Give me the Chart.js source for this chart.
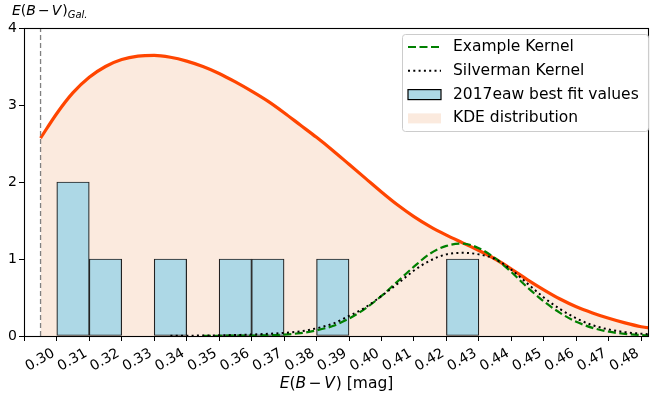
<!DOCTYPE html>
<html>
<head>
<meta charset="utf-8">
<script src="https://cdn.jsdelivr.net/npm/chart.js@4.4.0/dist/chart.umd.min.js"></script>
<style>
  html, body { margin: 0; padding: 0; background: #fff; }
  #wrap { width: 650px; height: 401px; }
</style>
</head>
<body>
<div id="wrap"><canvas id="myChart" width="650" height="401"></canvas></div>
<script>
const gridX = [0.300, 0.305, 0.310, 0.315, 0.320, 0.325, 0.330, 0.335, 0.340, 0.345,
  0.350, 0.355, 0.360, 0.365, 0.370, 0.375, 0.380, 0.385, 0.390, 0.395,
  0.400, 0.405, 0.410, 0.415, 0.420, 0.425, 0.430, 0.435, 0.440, 0.445,
  0.450, 0.455, 0.460, 0.465, 0.470, 0.475, 0.480, 0.485, 0.490];

const kdeValues = [2.57, 2.89, 3.16, 3.36, 3.50, 3.59, 3.635, 3.645, 3.62, 3.57,
  3.50, 3.41, 3.30, 3.18, 3.05, 2.90, 2.74, 2.58, 2.41, 2.23,
  2.05, 1.87, 1.70, 1.55, 1.42, 1.31, 1.21, 1.11, 1.00, 0.87,
  0.73, 0.60, 0.48, 0.38, 0.30, 0.23, 0.17, 0.12, 0.09];

const exampleKernel = [null, null, null, null, null, null, null, null, null, null,
  0.002, 0.003, 0.005, 0.006, 0.009, 0.018, 0.037, 0.073, 0.13, 0.226,
  0.356, 0.52, 0.71, 0.90, 1.07, 1.17, 1.20, 1.14, 1.01, 0.83,
  0.63, 0.45, 0.30, 0.185, 0.106, 0.056, 0.028, 0.013, 0.005];

const silvermanKernel = [null, null, null, null, null, null, null, null, 0.002, 0.004,
  0.006, 0.009, 0.013, 0.019, 0.028, 0.04, 0.06, 0.10, 0.16, 0.26,
  0.37, 0.52, 0.68, 0.85, 0.98, 1.06, 1.08, 1.06, 1.00, 0.86,
  0.68, 0.50, 0.35, 0.23, 0.14, 0.085, 0.05, 0.03, 0.015];

// histogram of best fit values (bin centres, counts)
const fitValues = [0.31, 0.32, 0.34, 0.36, 0.37, 0.39, 0.43];
const fitCounts = [2, 1, 1, 1, 1, 1, 1];

const galEBV = 0.30;

const xTicks = [0.30, 0.31, 0.32, 0.33, 0.34, 0.35, 0.36, 0.37, 0.38, 0.39,
  0.40, 0.41, 0.42, 0.43, 0.44, 0.45, 0.46, 0.47, 0.48];
const yTicks = [0, 1, 2, 3, 4];

const FAMILY = "'DejaVu Sans', sans-serif";
const KDE_FILL = "rgb(251,234,222)";

const toPoints = (ys) => gridX.map((x, i) => ({ x: x, y: ys[i] }));

// draws a mathtext-like string, parts = [{t, italic, size, dy, padL, padR}]
function drawParts(ctx, parts, x, y, align) {
  const font = (p) => (p.italic ? "italic " : "") + (p.size || 15.5) + "px " + FAMILY;
  let total = 0;
  parts.forEach((p) => {
    ctx.font = font(p);
    total += (p.padL || 0) + ctx.measureText(p.t).width + (p.padR || 0);
  });
  let cx = align === "center" ? x - total / 2 : x;
  ctx.textAlign = "left";
  ctx.textBaseline = "alphabetic";
  parts.forEach((p) => {
    ctx.font = font(p);
    cx += p.padL || 0;
    ctx.fillText(p.t, cx, y + (p.dy || 0));
    cx += ctx.measureText(p.t).width + (p.padR || 0);
  });
}

const extrasPlugin = {
  id: "extras",
  afterDatasetsDraw(chart) {
    const ctx = chart.ctx;
    const a = chart.chartArea;
    ctx.save();
    ctx.strokeStyle = "#000";
    ctx.lineWidth = 1.1;
    ctx.strokeRect(a.left + 0.5, a.top + 0.5, a.right - a.left - 1, a.bottom - a.top);
    ctx.restore();
  },
  afterDraw(chart) {
    const ctx = chart.ctx;
    const a = chart.chartArea;
    ctx.save();
    ctx.fillStyle = "#000";

    // x axis label
    drawParts(ctx, [
      { t: "E", italic: true },
      { t: "(" },
      { t: "B", italic: true },
      { t: "\u2212", padL: 2.5, padR: 2.5 },
      { t: "V", italic: true },
      { t: ") [mag]", padL: 1 }
    ], (a.left + a.right) / 2, 388, "center");

    // label of the galactic reddening line
    drawParts(ctx, [
      { t: "E", italic: true, size: 14 },
      { t: "(", size: 14 },
      { t: "B", italic: true, size: 14 },
      { t: "\u2212", size: 14, padL: 2, padR: 2 },
      { t: "V", italic: true, size: 14 },
      { t: ")", size: 14, padL: 1 },
      { t: "Gal.", italic: true, size: 10, dy: 3 }
    ], 12, 15, "left");

    // legend
    const bx = 402.5, by = 34.5, bw = 246, bh = 97;
    ctx.beginPath();
    ctx.roundRect(bx, by, bw, bh, 3);
    ctx.fillStyle = "rgba(255,255,255,0.8)";
    ctx.fill();
    ctx.strokeStyle = "#cccccc";
    ctx.lineWidth = 1;
    ctx.stroke();

    const items = chart.data.datasets
      .filter((d) => d.legendKind)
      .sort((p, q) => p.legendRank - q.legendRank);
    items.forEach((d, i) => {
      const cy = 47 + i * 23.8;
      const hx0 = 408, hx1 = 441;
      ctx.save();
      if (d.legendKind === "line") {
        ctx.beginPath();
        ctx.setLineDash(d.borderDash || []);
        ctx.strokeStyle = d.borderColor;
        ctx.lineWidth = d.borderWidth;
        ctx.moveTo(hx0, cy);
        ctx.lineTo(hx1, cy);
        ctx.stroke();
      } else if (d.legendKind === "box") {
        ctx.fillStyle = d.backgroundColor;
        ctx.fillRect(hx0, cy - 5, hx1 - hx0, 10);
        ctx.strokeStyle = "#000";
        ctx.lineWidth = 1.2;
        ctx.strokeRect(hx0, cy - 5, hx1 - hx0, 10);
      } else {
        ctx.fillStyle = d.backgroundColor;
        ctx.fillRect(hx0, cy - 5, hx1 - hx0, 10);
      }
      ctx.restore();
      ctx.fillStyle = "#000";
      ctx.font = "15.5px " + FAMILY;
      ctx.textAlign = "left";
      ctx.textBaseline = "middle";
      ctx.fillText(d.label, 453, cy);
    });
    ctx.restore();
  }
};

new Chart(document.getElementById("myChart"), {
  type: "line",
  data: {
    datasets: [
      {
        type: "line",
        label: "KDE distribution",
        data: toPoints(kdeValues),
        borderColor: "#ff4500",
        borderWidth: 3.2,
        backgroundColor: KDE_FILL,
        fill: "origin",
        pointRadius: 0,
        cubicInterpolationMode: "monotone",
        order: 5,
        legendKind: "patch",
        legendRank: 3
      },
      {
        type: "bar",
        label: "2017eaw best fit values",
        data: fitValues.map((x, i) => ({ x: x, y: fitCounts[i] })),
        backgroundColor: "#add8e6",
        borderColor: "#222",
        borderWidth: 1.2,
        borderSkipped: false,
        barPercentage: 1,
        categoryPercentage: 1,
        order: 4,
        legendKind: "box",
        legendRank: 2
      },
      {
        type: "line",
        label: "galactic E(B-V)",
        data: [{ x: galEBV, y: 0 }, { x: galEBV, y: 4 }],
        borderColor: "#808080",
        borderWidth: 1.3,
        borderDash: [5, 3],
        pointRadius: 0,
        order: 3
      },
      {
        type: "line",
        label: "Example Kernel",
        data: toPoints(exampleKernel),
        borderColor: "green",
        borderWidth: 2.2,
        borderDash: [8, 3.5],
        pointRadius: 0,
        cubicInterpolationMode: "monotone",
        order: 1,
        legendKind: "line",
        legendRank: 0
      },
      {
        type: "line",
        label: "Silverman Kernel",
        data: toPoints(silvermanKernel),
        borderColor: "#000",
        borderWidth: 2,
        borderDash: [2, 3.3],
        pointRadius: 0,
        cubicInterpolationMode: "monotone",
        order: 0,
        legendKind: "line",
        legendRank: 1
      }
    ]
  },
  options: {
    responsive: false,
    animation: false,
    devicePixelRatio: 1,
    layout: { padding: { top: 28, right: 1, left: 0, bottom: 0 } },
    plugins: {
      legend: { display: false },
      tooltip: { enabled: false }
    },
    scales: {
      x: {
        type: "linear",
        min: 0.2949,
        max: 0.4874,
        offset: false,
        afterBuildTicks: (s) => { s.ticks = xTicks.map((v) => ({ value: v })); },
        afterFit: (s) => { s.height = 65; },
        grid: { drawOnChartArea: false, drawTicks: true, tickLength: 5, tickColor: "#000", tickWidth: 1 },
        border: { display: false },
        ticks: {
          autoSkip: false,
          minRotation: 30,
          maxRotation: 30,
          labelOffset: 13,
          padding: 4,
          color: "#000",
          font: { family: FAMILY, size: 14 },
          callback: (v) => Number(v).toFixed(2)
        }
      },
      y: {
        min: 0,
        max: 4,
        afterBuildTicks: (s) => { s.ticks = yTicks.map((v) => ({ value: v })); },
        afterFit: (s) => { s.width = 24; },
        grid: { drawOnChartArea: false, drawTicks: true, tickLength: 5, tickColor: "#000", tickWidth: 1 },
        border: { display: false },
        ticks: { padding: 2, color: "#000", font: { family: FAMILY, size: 14 } }
      }
    }
  },
  plugins: [extrasPlugin]
});
</script>
</body>
</html>
